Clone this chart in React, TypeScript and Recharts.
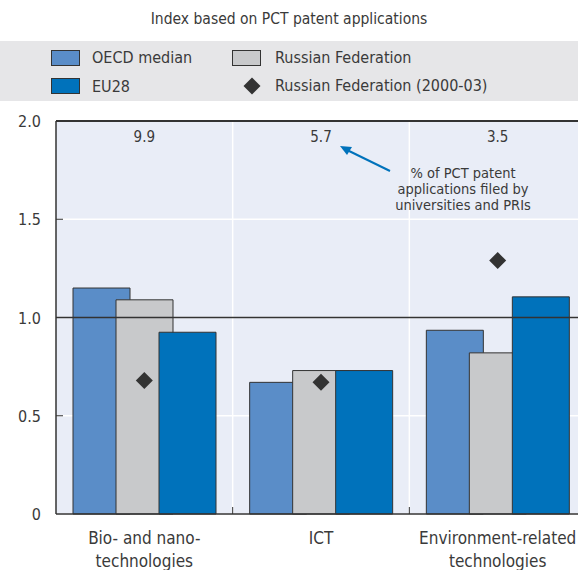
import React from 'react'
import {
  ComposedChart, Bar, Line, XAxis, YAxis, CartesianGrid, ReferenceLine, LabelList
} from 'recharts'

// categories and series
const categories = ['Bio- and nano-|technologies', 'ICT', 'Environment-related|technologies']
const oecdMedian = [1.15, 0.67, 0.935]
const russia = [1.09, 0.73, 0.82]
const eu28 = [0.925, 0.73, 1.105]
const russia0003 = [0.68, 0.67, 1.29]
const univShare = ['9.9', '5.7', '3.5']
const yTicks = [0, 0.5, 1, 1.5, 2]

const data = categories.map((c, i) => ({
  category: c,
  oecd: oecdMedian[i],
  rus: russia[i],
  eu: eu28[i],
  rus0003: russia0003[i],
  share: univShare[i],
}))

const FONT = '"Liberation Sans Narrow", "Arial Narrow", "DejaVu Sans Condensed", Roboto, sans-serif'
const TXT = '#3a3a3a'
const DARK = '#333333'
const C_OECD = '#5a8dc8'
const C_RUS = '#c8c9cb'
const C_EU = '#0072bb'

const W = 600
const H = 570
const M = { top: 121, right: 14, left: 0, bottom: 0 }
const Y_W = 56
const X_H = 56
const BAND = (W - M.left - M.right - Y_W) / 3

const Diamond = (props: any) => {
  const { cx, cy } = props
  if (cx == null || cy == null) return null
  const r = 8.5
  return <polygon points={`${cx},${cy - r} ${cx + r},${cy} ${cx},${cy + r} ${cx - r},${cy}`} fill={DARK} />
}

const YTick = (props: any) => {
  const { x, y, payload } = props
  const v = payload.value
  const axisX = x + 15
  return (
    <g>
      {v > 0 && v < 2 && <line x1={axisX} x2={axisX + 7} y1={y} y2={y} stroke={DARK} strokeWidth={1} />}
      <text x={x} y={y} dy={6} textAnchor="end" fontSize={16} fill={TXT} fontFamily={FONT}>
        {v === 0 ? '0' : v.toFixed(1)}
      </text>
    </g>
  )
}

const XTick = (props: any) => {
  const { x, y, payload, index } = props
  const lines = String(payload.value).split('|')
  return (
    <g>
      {index < 2 && (
        <line x1={x + BAND / 2} x2={x + BAND / 2} y1={y - 7} y2={y} stroke={DARK} strokeWidth={1} />
      )}
      <text textAnchor="middle" fontSize={17} fill={TXT} fontFamily={FONT}>
        {lines.map((l, i) => (
          <tspan key={i} x={x} y={y + 30 + i * 23}>{l}</tspan>
        ))}
      </text>
    </g>
  )
}

// share of university/PRI filings, printed along the top of the plot
const ShareLabel = (props: any) => {
  const { x, value } = props
  if (x == null) return null
  return (
    <text x={x} y={M.top + 21} textAnchor="middle" fontSize={15} fill={TXT} fontFamily={FONT}>
      {value}
    </text>
  )
}

const Swatch = ({ color, left, top }: { color: string; left: number; top: number }) => (
  <div style={{ position: 'absolute', left, top, width: 27, height: 14, background: color, border: `1px solid ${DARK}` }} />
)

const LegendText = ({ left, top, children }: any) => (
  <div style={{ position: 'absolute', left, top, fontSize: 16, lineHeight: '18px', color: TXT, whiteSpace: 'nowrap' }}>{children}</div>
)

export default function App() {
  return (
    <div style={{ position: 'fixed', left: 0, top: 0, width: 578, height: 570, overflow: 'hidden', background: '#fff', fontFamily: FONT }}>
      <div style={{ position: 'absolute', left: 0, width: 578, top: 10, textAlign: 'center', fontSize: 15.5, color: TXT }}>
        Index based on PCT patent applications
      </div>
      <div style={{ position: 'absolute', left: 0, top: 41, width: 578, height: 60, background: '#e6e6e8' }}>
        <Swatch color={C_OECD} left={51} top={9} />
        <LegendText left={92} top={8}>OECD median</LegendText>
        <Swatch color={C_RUS} left={232} top={9} />
        <LegendText left={275} top={8}>Russian Federation</LegendText>
        <Swatch color={C_EU} left={51} top={37} />
        <LegendText left={92} top={37}>EU28</LegendText>
        <svg style={{ position: 'absolute', left: 243, top: 36 }} width={18} height={18}>
          <polygon points="9,0.5 17.5,9 9,17.5 0.5,9" fill={DARK} />
        </svg>
        <LegendText left={275} top={36}>Russian Federation (2000-03)</LegendText>
      </div>

      <div style={{ position: 'absolute', left: 0, top: 0 }}>
        <ComposedChart width={W} height={H} data={data} margin={M} barCategoryGap={17} barGap={-14}>
          <CartesianGrid
            fill="#e9edf7"
            stroke="#ffffff"
            strokeWidth={1.5}
            verticalCoordinatesGenerator={({ offset }: any) => [offset.left + offset.width / 3, offset.left + (2 * offset.width) / 3]}
          />
          <XAxis
            dataKey="category"
            height={X_H}
            axisLine={{ stroke: DARK, strokeWidth: 1.5 }}
            tickLine={false}
            tickSize={0}
            tickMargin={0}
            interval={0}
            tick={<XTick />}
          />
          <YAxis
            width={Y_W}
            domain={[0, 2]}
            ticks={yTicks}
            interval={0}
            axisLine={{ stroke: DARK, strokeWidth: 1.5 }}
            tickLine={false}
            tickSize={0}
            tickMargin={15}
            tick={<YTick />}
          />
          <Bar dataKey="oecd" fill={C_OECD} stroke={DARK} strokeWidth={1} isAnimationActive={false} />
          <Bar dataKey="rus" fill={C_RUS} stroke={DARK} strokeWidth={1} isAnimationActive={false} />
          <Bar dataKey="eu" fill={C_EU} stroke={DARK} strokeWidth={1} isAnimationActive={false} />
          <ReferenceLine y={1} stroke={DARK} strokeWidth={1.5} />
          <ReferenceLine y={2} stroke={DARK} strokeWidth={2} />
          <Line dataKey="rus0003" stroke="none" dot={<Diamond />} activeDot={false} isAnimationActive={false}>
            <LabelList dataKey="share" content={<ShareLabel />} />
          </Line>
        </ComposedChart>
      </div>

      <svg style={{ position: 'absolute', left: 0, top: 0, pointerEvents: 'none' }} width={578} height={570}>
        <line x1={390} y1={171} x2={345} y2={149} stroke={C_EU} strokeWidth={2} />
        <polygon points="340,146 352,147 347,155" fill={C_EU} />
        <text textAnchor="middle" fontSize={14.5} fill={TXT} fontFamily={FONT}>
          <tspan x={463} y={178}>% of PCT patent</tspan>
          <tspan x={463} y={194}>applications filed by</tspan>
          <tspan x={463} y={210}>universities and PRIs</tspan>
        </text>
      </svg>
    </div>
  )
}
